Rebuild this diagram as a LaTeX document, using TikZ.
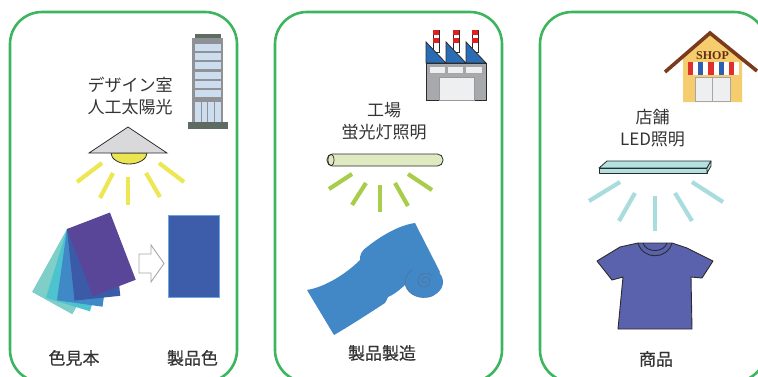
\documentclass[tikz,border=0pt]{standalone}
\usepackage{fontspec}
\setmainfont{Noto Sans CJK JP}
\newfontfamily\labelfont{Noto Sans CJK JP}[FakeBold=0.5]
\newfontfamily\signfont{Liberation Serif}
\definecolor{panelgreen}{HTML}{3DB55E}
\definecolor{textgray}{HTML}{333333}
\definecolor{darkline}{HTML}{2B2B2B}
\definecolor{sunray}{HTML}{ECE752}
\definecolor{tuberay}{HTML}{A8CD4A}
\definecolor{ledray}{HTML}{A9DCDC}
\definecolor{towergray}{HTML}{8F9194}
\definecolor{towercap}{HTML}{5F6A62}
\definecolor{glass}{HTML}{CBDDEE}
\definecolor{roofblue}{HTML}{2A6DB5}
\definecolor{chimred}{HTML}{E02020}
\definecolor{plantgray}{HTML}{A7A9AC}
\definecolor{plantlight}{HTML}{EEEFF1}
\definecolor{shopwall}{HTML}{F6CD6E}
\definecolor{shoproof}{HTML}{7A3B1C}
\definecolor{awnred}{HTML}{E0302C}
\definecolor{awnblue}{HTML}{2F5FB0}
\definecolor{ledbar}{HTML}{B3E0E0}
\definecolor{tubefill}{HTML}{DFEAC3}
\definecolor{lampshade}{HTML}{D9D9DB}
\definecolor{bulb}{HTML}{ECE552}
\definecolor{cardteal}{HTML}{7FCFC8}
\definecolor{cardcyan}{HTML}{4DC3CF}
\definecolor{cardmid}{HTML}{3F8AC6}
\definecolor{carddark}{HTML}{3B5AA8}
\definecolor{cardpurple}{HTML}{5A4699}
\definecolor{productblue}{HTML}{3D5CA9}
\definecolor{productedge}{HTML}{6AA7DC}
\definecolor{fabric}{HTML}{4388C6}
\definecolor{fabricedge}{HTML}{4F72A0}
\definecolor{shirt}{HTML}{5B62AD}
\begin{document}
\begin{tikzpicture}[x=1pt,y=-1pt,
  panel/.style={draw=panelgreen, line width=2.6, rounded corners=32},
  caption/.style={font=\fontsize{17}{22}\selectfont, text=textgray, align=center, inner sep=0},
  bottomcap/.style={font=\labelfont\fontsize{17}{22}\selectfont, text=textgray, inner sep=0},
  ray/.style={line width=4.2},
  outlined/.style={draw=darkline, line width=0.8}]
\useasboundingbox (0,0) rectangle (758,376);
\clip (0,0) rectangle (758,376);

% three scene panels
\draw[panel] (10,12) rectangle (237,382);
\draw[panel] (275,12) rectangle (502,382);
\draw[panel] (540,12) rectangle (766,382);

% ---------- design room ----------
\node[caption] (designroom) at (130,96) {デザイン室\\人工太陽光};

% office tower
\fill[towergray] (192,38) rectangle (223,123);
\fill[towercap] (195,34) rectangle (221,38);
\foreach \wy in {44.3,53.3,62.3,71.5,80.7,89.7}
  \fill[glass] (194.5,\wy) rectangle (221,\wy+7);
\fill[glass] (194.5,102) rectangle (221,122);
\foreach \wx in {201,207.5,214}
  \draw[towergray, line width=0.8] (\wx,102) -- (\wx,122);
\fill[towercap] (188,122) rectangle (228,129);

% daylight lamp
\fill[bulb, draw=darkline, line width=0.8] (111,153) arc[start angle=180, end angle=0, x radius=18, y radius=11] -- cycle;
\filldraw[fill=lampshade, outlined] (89,153) -- (128,127) -- (167,153) -- cycle;
\draw[ray, sunray] (102,163) -- (77,182);
\draw[ray, sunray] (113,173) -- (100,198);
\draw[ray, sunray] (128,177) -- (128,205);
\draw[ray, sunray] (146,173) -- (160,197);
\draw[ray, sunray] (159,163) -- (184,182);

% colour sample fan
\foreach \ang/\col in {-29/cardteal,-17/cardcyan,-8/cardmid,6/carddark,21/cardpurple}
  \fill[\col, shift={(67,229)}, rotate=\ang] (0,0) rectangle (46,72);

% hollow arrow
\draw[gray!70, fill=white, line width=0.9, line join=miter]
  (139,254) -- (151,254) -- (151,245) -- (164,263.5) -- (151,282) -- (151,273) -- (139,273) -- cycle;

% resulting product colour
\filldraw[fill=productblue, draw=productedge, line width=0.8] (168,215) rectangle (219,297);

\node[bottomcap] (samplebook) at (74,358) {色見本};
\node[bottomcap] (productcolor) at (192.5,358) {製品色};

% ---------- factory ----------
\node[caption] (factory) at (384,121) {工場\\蛍光灯照明};

% factory building
\foreach \cx in {436,456,475}{
  \filldraw[fill=white, draw=darkline, line width=0.7] (\cx-3,30) rectangle (\cx+3,52);
  \fill[chimred] (\cx-2.6,30.4) rectangle (\cx+2.6,35);
  \fill[chimred] (\cx-2.6,38) rectangle (\cx+2.6,43);
}
\foreach \rx in {426,446,466}
  \filldraw[fill=roofblue, outlined] (\rx,42) -- (\rx+20,63) -- (\rx,63) -- cycle;
\filldraw[fill=plantgray, outlined] (426,63) rectangle (486,100);
\fill[gray!70] (428,65) rectangle (484,74);
\fill[plantlight] (430,66.5) rectangle (445,72.5);
\fill[plantlight] (448,66.5) rectangle (463,72.5);
\fill[plantlight] (466,66.5) rectangle (482,72.5);
\filldraw[fill=plantlight, draw=gray!80, line width=0.6] (439,77) rectangle (474,100);

% fluorescent tube
\filldraw[fill=tubefill, outlined, rounded corners=5.5] (327,154) rectangle (443,166);
\draw[darkline, line width=0.7] (331,160) ellipse[x radius=3, y radius=5.8];
\draw[ray, tuberay] (352,174) -- (329,189);
\draw[ray, tuberay] (366,183) -- (352,205);
\draw[ray, tuberay] (380,185) -- (380,212);
\draw[ray, tuberay] (395,183) -- (408,206);
\draw[ray, tuberay] (408,174) -- (432,190);

% bolt of cloth
\fill[fabric]
  (307,290) .. controls (325,287) and (346,274) .. (360,260)
  .. controls (359.5,255) and (362,250) .. (367,247)
  .. controls (382,235) and (400,225) .. (415,223)
  -- (440,272) -- (425,297) -- (407,283)
  .. controls (400,290) and (393,295) .. (388,297)
  .. controls (387,299) and (386.5,301) .. (385,303)
  .. controls (368,314) and (348,327) .. (334,335)
  -- cycle;
\fill[fabric] (424,282) ellipse[x radius=19, y radius=15.5];
\draw[fabricedge, line width=0.6] (424,282) ++(60:19 and 15.5) arc[start angle=60, end angle=235, x radius=19, y radius=15.5];
\draw[fabricedge, line width=0.6]
  (426,281) arc[start angle=0, end angle=180, radius=2]
  arc[start angle=180, end angle=360, radius=4]
  arc[start angle=0, end angle=180, radius=6]
  arc[start angle=180, end angle=320, radius=8];

\node[bottomcap] (manufacture) at (382,353) {製品製造};

% ---------- shop ----------
\node[caption] (shop) at (652.5,128.5) {店舗\\LED照明};

% shop building
\fill[shopwall] (683,102) -- (683,57) -- (710,35) -- (742,59) -- (742,102) -- cycle;
\foreach \i/\col in {0/awnred,1/white,2/awnblue,3/white,4/awnred,5/white,6/awnblue,7/white,8/awnred,9/white}
  \fill[\col] (688+\i*5.1,62) rectangle (688+\i*5.1+5.1,75);
\filldraw[fill=plantlight, draw=gray!70, line width=0.6] (695,77) rectangle (730,101);
\draw[gray!70, line width=0.6] (712.5,77) -- (712.5,101);
\draw[shoproof, line width=3.6, line join=miter] (665,72) -- (710,33) -- (757,71);
\node[font=\signfont\bfseries\fontsize{12}{12}\selectfont, text=shoproof!80!black, inner sep=0] (shopsign) at (712.5,55.5) {SHOP};

% LED bar light
\filldraw[fill=ledbar, outlined, line join=round] (599,168) -- (607,161) -- (711,161) -- (707,168) -- cycle;
\filldraw[fill=ledbar, outlined, line join=round] (599,168) rectangle (707,173);
\filldraw[fill=ledbar, outlined, line join=round] (707,168) -- (711,161) -- (711,166) -- (707,173) -- cycle;
\draw[ray, ledray] (620,182) -- (589,201);
\draw[ray, ledray] (635,193) -- (619,221);
\draw[ray, ledray] (655,196) -- (655,231);
\draw[ray, ledray] (675,193) -- (692,221);
\draw[ray, ledray] (692,182) -- (723,202);

% t-shirt
\filldraw[fill=shirt, draw=darkline, line width=0.9, line join=round]
  (638,243) -- (620,247) -- (597,261) -- (612,280) -- (623,277) -- (618,329)
  -- (692,329) -- (691,277) -- (702,278) -- (713,261) -- (687,248) -- (672,243) -- cycle;
\draw[darkline, line width=0.9] (638,243) .. controls (643,260) and (667,260) .. (672,243);
\draw[darkline, line width=0.9] (643,243) .. controls (646,253) and (664,253) .. (667,243);

\node[bottomcap] (goods) at (656,359) {商品};
\end{tikzpicture}
\end{document}
